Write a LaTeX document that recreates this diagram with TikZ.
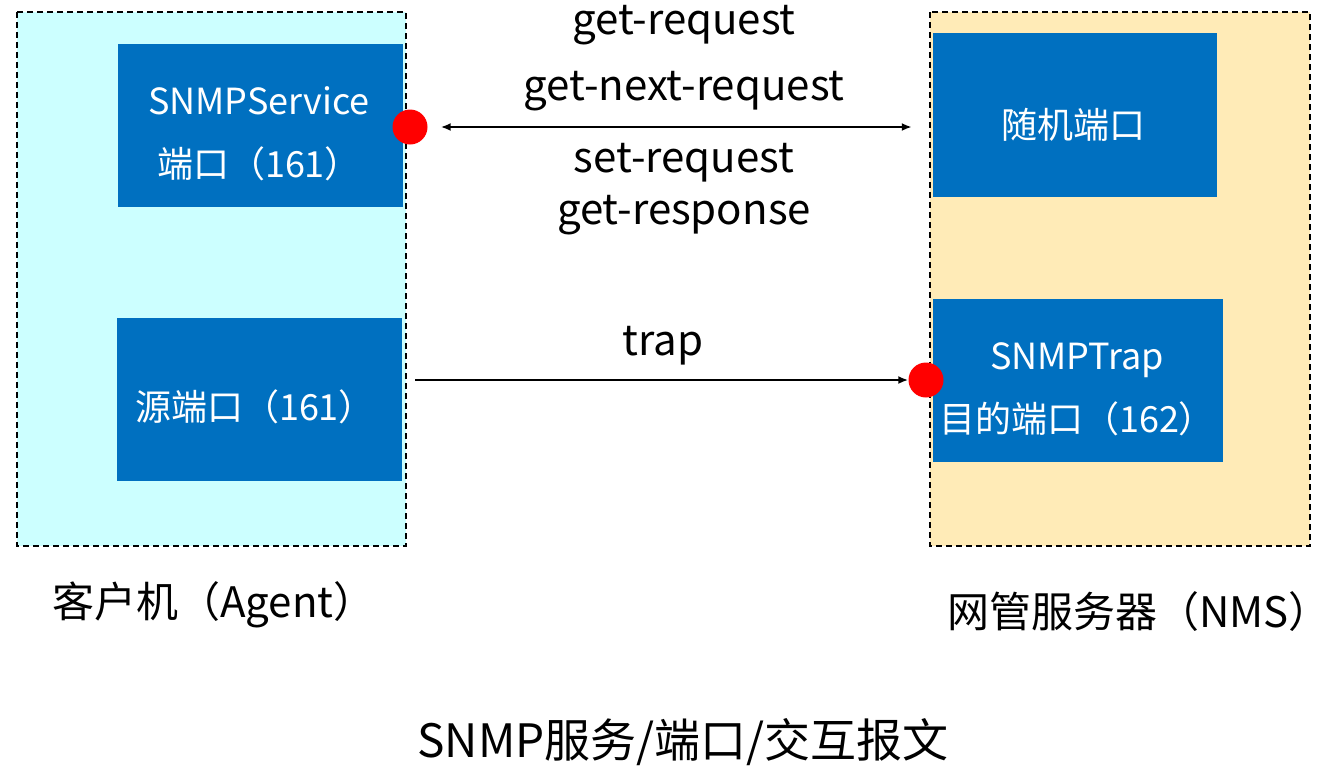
\documentclass[tikz,border=0pt]{standalone}
\usepackage{fontspec}
\setmainfont{Noto Sans CJK SC}
\usetikzlibrary{arrows.meta}
\definecolor{agentbg}{HTML}{CCFFFF}
\definecolor{nmsbg}{HTML}{FFEBB7}
\definecolor{boxblue}{HTML}{0070C0}
\tikzset{
  zone/.style={draw=black, line width=1.6pt, dash pattern=on 6pt off 4pt},
  portbox/.style={fill=boxblue, inner sep=0pt},
  boxtext/.style={text=white, align=center, inner sep=0pt, font=\fontsize{36}{63}\selectfont},
  dot/.style={circle, fill=red, minimum size=35pt, inner sep=0pt},
  msg/.style={font=\fontsize{42}{48}\selectfont, inner sep=0pt},
  caption/.style={font=\fontsize{42}{48}\selectfont, inner sep=0pt},
  arr/.style={line width=2pt, -{Latex[length=10pt,width=8pt]}},
}
\begin{document}
\begin{tikzpicture}[x=1pt,y=-1pt]
\useasboundingbox (0,0) rectangle (1330,769);
% zones
\fill[agentbg] (17,12) rectangle (406,546);
\draw[zone] (17,12) rectangle (406,546);
\fill[nmsbg] (930,12) rectangle (1310,546);
\draw[zone] (930,12) rectangle (1310,546);
% boxes
\node[portbox, minimum width=285pt, minimum height=163pt] (svc) at (260.5,125.5) {};
\node[boxtext] (svct) at (259,134) {SNMPService\\端口（161）};
\node[portbox, minimum width=285pt, minimum height=163pt] (src) at (259.5,399) {};
\node[boxtext] (srct) at (255,407) {源端口（161）};
\node[portbox, minimum width=284pt, minimum height=164pt] (rand) at (1075,115) {};
\node[boxtext] (randt) at (1073,125) {随机端口};
\node[portbox, minimum width=290pt, minimum height=163pt] (trap) at (1078,380.5) {};
\node[boxtext] (trapt) at (1077,389) {SNMPTrap\\目的端口（162）};
% dots
\node[dot] (d1) at (410,127) {};
\node[dot] (d2) at (926,380) {};
% arrows
\draw[arr, {Latex[length=10pt,width=8pt]}-{Latex[length=10pt,width=8pt]}, shorten <=13pt, shorten >=21pt] (d1.east) -- (rand.west |- d1.east);
\draw[arr, shorten <=13pt] (src.east |- d2.west) -- (d2.west);
% message labels
\node[msg] (m1) at (684,25) {get-request};
\node[msg] (m2) at (684,91) {get-next-request};
\node[msg] (m3) at (684,163) {set-request};
\node[msg] (m4) at (684,215) {get-response};
\node[msg] (m5) at (663,346) {trap};
% captions
\node[caption] (cap1) at (214,605) {客户机（Agent）};
\node[caption] (cap2) at (1139,612) {网管服务器（NMS）};
\node[font=\fontsize{46}{52}\selectfont, inner sep=0pt] (title) at (683,742) {SNMP服务/端口/交互报文};
\end{tikzpicture}
\end{document}
